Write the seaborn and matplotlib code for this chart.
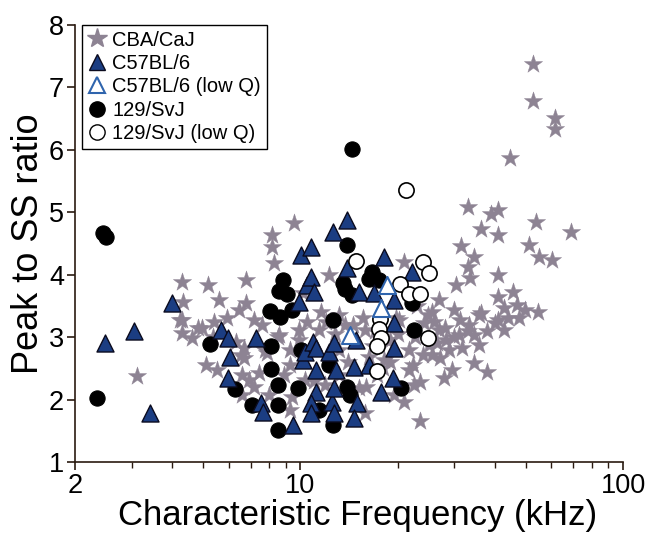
import matplotlib
matplotlib.use("Agg")
import matplotlib.pyplot as plt
from matplotlib.lines import Line2D
from matplotlib.ticker import FixedLocator, NullFormatter
import pandas as pd
import seaborn as sns

# CBA/CaJ: characteristic frequency (kHz) and peak-to-steady-state ratio
cba_cf = [52.6, 52.6, 61.5, 61.5, 44.7, 33.1, 39.0, 41.0, 53.8, 69.0,
          36.3, 41.0, 31.5, 51.2, 34.6, 55.0, 60.1, 21.0, 33.1, 41.0,
          30.4, 41.0, 45.6, 29.9, 36.3, 42.8, 47.0, 54.5, 49.6, 35.8,
          41.0, 24.2, 26.0, 31.3, 40.2, 34.6, 28.3, 25.6, 31.6, 34.6,
          37.8, 29.6, 27.9, 23.5, 27.0, 21.0, 22.4, 24.0, 21.75, 23.4,
          17.3, 15.9, 15.6, 19.8, 16.35, 33.6, 23.0, 26.9, 25.5,
          3.11, 4.28, 5.16, 6.8, 4.31, 5.6, 6.8, 6.47, 4.28, 5.9,
          4.94, 4.28, 4.6, 5.34, 6.7, 6.56, 5.5, 6.7, 7.46, 6.6,
          6.6, 8.6, 9.38, 5.4, 9.58, 8.19, 8.19, 8.3, 12.3, 6.95,
          9.25, 8.0, 8.9, 8.5, 6.3, 10.45, 12.0, 9.25, 7.6, 9.93,
          13.2, 13.2, 15.2, 4.22, 4.8, 7.2, 11.0, 14.0, 16.8,
          18.5, 20.0, 19.0, 17.0, 12.8, 11.6, 10.2, 22.6, 26.5, 30.0,
          28.0, 33.0, 38.0, 44.0, 24.8, 18.0, 16.0, 14.6, 7.9, 5.1,
          7.2, 7.75, 9.93, 11.45, 11.9, 9.25, 10.3, 13.2, 15.8, 18.9,
          20.25, 21.75, 19.5, 18.2, 25.1, 26.9, 28.9, 31.1, 33.4, 35.8,
          42.8, 47.7, 22.5, 13.7]
cba_ratio = [7.37, 6.78, 6.50, 6.33, 5.86, 5.08, 4.97, 5.03, 4.84, 4.68,
             4.73, 4.63, 4.46, 4.47, 4.28, 4.28, 4.23, 4.20, 4.12, 3.99,
             3.83, 3.64, 3.72, 3.43, 3.38, 3.46, 3.51, 3.40, 3.43, 3.35,
             3.27, 3.22, 3.24, 3.27, 3.22, 3.03, 2.95, 2.71, 2.82, 2.58,
             2.44, 2.47, 2.34, 1.66, 2.66, 1.96, 2.55, 2.71, 2.79, 2.28,
             2.39, 1.78, 3.30, 3.30, 2.68, 3.94, 3.50, 3.59, 3.40,
             2.38, 3.88, 3.83, 3.91, 3.56, 3.60, 3.54, 3.43, 3.27, 3.30,
             3.14, 3.06, 2.98, 3.00, 2.82, 2.71, 2.47, 2.66, 2.42, 2.39,
             2.07, 3.03, 2.04, 3.24, 4.82, 4.63, 4.44, 4.18, 3.99, 2.31,
             2.55, 2.07, 2.39, 3.00, 2.92, 3.24, 3.24, 2.79, 3.19, 3.11,
             3.35, 2.39, 2.18, 3.27, 3.14, 2.20, 2.30, 2.60, 2.85,
             2.95, 3.05, 2.60, 3.10, 3.05, 3.40, 3.70, 3.00, 2.90, 3.00,
             3.15, 3.10, 3.10, 3.30, 3.35, 2.50, 2.20, 3.20, 2.75, 2.55,
             3.27, 2.79, 2.95, 3.11, 2.23, 1.83, 2.31, 2.79, 3.11, 2.95,
             3.27, 2.47, 2.07, 2.63, 2.87, 3.11, 2.79, 3.03, 3.19, 2.87,
             3.11, 3.30, 2.23, 3.19]

# C57BL/6
c57_cf = [2.47, 3.04, 3.41, 3.99, 5.68, 5.95, 6.03, 5.95, 7.3, 7.57,
          7.63, 9.45, 10.15, 10.3, 10.9, 11.2, 11.2, 11.2, 10.8, 10.8,
          12.3, 12.5, 9.93, 10.45, 10.8, 11.05, 10.07, 10.8, 12.6, 13.9,
          13.9, 15.23, 16.9, 19.5, 18.2, 22.1, 12.7, 14.9, 19.5, 12.9,
          14.7, 16.35, 19.3, 17.8, 12.7, 15.0, 12.7, 14.7, 19.5]
c57_ratio = [2.90, 3.10, 1.78, 3.54, 3.11, 2.98, 2.68, 2.34, 2.98, 1.94,
             1.80, 1.59, 2.63, 2.76, 2.92, 2.82, 2.47, 2.12, 1.94, 1.78,
             2.76, 1.96, 3.56, 3.83, 3.96, 3.72, 4.31, 4.44, 4.68, 4.87,
             4.10, 3.72, 3.70, 3.59, 4.28, 4.04, 2.90, 2.95, 2.82, 2.47,
             2.52, 2.55, 2.34, 2.12, 2.18, 1.94, 1.78, 1.70, 3.22]

# C57BL/6 (low Q)
c57lq_cf = [18.6, 17.8, 14.2]
c57lq_ratio = [3.83, 3.46, 3.03]

# 129/SvJ
sv_cf = [2.44, 2.50, 2.34, 14.4, 5.23, 6.25, 7.05, 8.13, 8.13, 8.5,
         8.5, 8.5, 9.86, 8.8, 8.6, 9.1, 8.07, 8.67, 9.4, 13.9,
         16.7, 16.35, 13.5, 13.7, 14.4, 17.56, 22.1, 12.6, 22.5, 12.3,
         13.9, 14.2, 20.5, 12.6, 11.45, 10.05]
sv_ratio = [4.66, 4.60, 2.02, 6.01, 2.89, 2.17, 1.91, 2.86, 2.49, 2.23,
            1.91, 1.51, 2.18, 3.91, 3.74, 3.69, 3.42, 3.32, 3.43, 4.47,
            4.04, 3.93, 3.86, 3.77, 3.67, 3.91, 3.54, 3.27, 3.11, 2.55,
            2.20, 2.07, 2.18, 1.59, 1.83, 2.79]

# 129/SvJ (low Q)
svlq_cf = [21.3, 14.9, 24.0, 25.1, 20.4, 21.75, 23.4, 17.7, 17.56, 17.8,
           17.3, 24.9, 17.3]
svlq_ratio = [5.35, 4.22, 4.20, 4.02, 3.85, 3.69, 3.69, 3.29, 3.13, 2.98,
              2.86, 2.99, 2.46]

x_major = [2, 10, 100]
x_major_labels = ["2", "10", "100"]
y_ticks = [1, 2, 3, 4, 5, 6, 7, 8]

sns.set_theme(style="ticks")
plt.rcParams["font.family"] = ["Liberation Sans", "DejaVu Sans"]
plt.rcParams["text.color"] = "black"
plt.rcParams["axes.labelcolor"] = "black"
plt.rcParams["xtick.labelcolor"] = "black"
plt.rcParams["ytick.labelcolor"] = "black"

STAR = "#8d8393"
NAVY = "#1b3d82"
LOWQ_BLUE = "#2f64ad"
AXIS = "#2a1a10"

fig = plt.figure(figsize=(6.5, 5.35), dpi=100)
ax = fig.add_axes([0.1154, 0.1364, 0.8431, 0.8178])

def frame(cf, ratio):
    return pd.DataFrame({"cf": cf, "ratio": ratio})

sns.scatterplot(data=frame(cba_cf, cba_ratio), x="cf", y="ratio", ax=ax,
                marker="*", s=190, color=STAR, edgecolor=STAR,
                linewidth=0.3, legend=False, zorder=2)
sns.scatterplot(data=frame(sv_cf, sv_ratio), x="cf", y="ratio", ax=ax,
                marker="o", s=120, color="black", edgecolor="black",
                linewidth=0.8, legend=False, zorder=3)
sns.scatterplot(data=frame(c57_cf, c57_ratio), x="cf", y="ratio", ax=ax,
                marker="^", s=150, color=NAVY, edgecolor="#0b0b1e",
                linewidth=1.0, legend=False, zorder=4)
sns.scatterplot(data=frame(svlq_cf, svlq_ratio), x="cf", y="ratio", ax=ax,
                marker="o", s=120, color="white", edgecolor="black",
                linewidth=1.2, legend=False, zorder=5)
sns.scatterplot(data=frame(c57lq_cf, c57lq_ratio), x="cf", y="ratio", ax=ax,
                marker="^", s=150, color="white", edgecolor=LOWQ_BLUE,
                linewidth=1.5, legend=False, zorder=6)

ax.set_xscale("log")
ax.set_xlim(2, 100)
ax.set_ylim(1, 8)
ax.xaxis.set_major_locator(FixedLocator(x_major))
ax.set_xticklabels(x_major_labels)
ax.xaxis.set_minor_locator(FixedLocator([3, 4, 5, 6, 7, 8, 9,
                                         20, 30, 40, 50, 60, 70, 80, 90]))
ax.xaxis.set_minor_formatter(NullFormatter())
ax.set_yticks(y_ticks)

for side in ("top", "right"):
    ax.spines[side].set_visible(False)
for side in ("left", "bottom"):
    ax.spines[side].set_color(AXIS)
    ax.spines[side].set_linewidth(1.2)

ax.tick_params(axis="both", which="major", direction="out", length=6,
               width=1.2, labelsize=19.5, color=AXIS, pad=2)
ax.tick_params(axis="x", which="minor", direction="out", length=4,
               width=1.0, color=AXIS)

ax.set_xlabel("Characteristic Frequency (kHz)", fontsize=25, labelpad=0)
ax.xaxis.set_label_coords(0.516, -0.085)
ax.set_ylabel("Peak to SS ratio", fontsize=26, labelpad=2)

handles = [
    Line2D([], [], ls="none", marker="*", ms=15, color=STAR, mec=STAR),
    Line2D([], [], ls="none", marker="^", ms=12, color=NAVY, mec="#0b0b1e", mew=1.0),
    Line2D([], [], ls="none", marker="^", ms=12, color="white", mec=LOWQ_BLUE, mew=1.5),
    Line2D([], [], ls="none", marker="o", ms=11, color="black", mec="black"),
    Line2D([], [], ls="none", marker="o", ms=11, color="white", mec="black", mew=1.0),
]
labels = ["CBA/CaJ", "C57BL/6", "C57BL/6 (low Q)", "129/SvJ", "129/SvJ (low Q)"]
leg = ax.legend(handles, labels, loc="upper left", bbox_to_anchor=(0.013, 1.0),
                borderaxespad=0, fontsize=14.5, frameon=True, fancybox=False,
                edgecolor="black", framealpha=1, handlelength=0.9,
                handletextpad=0.3, labelspacing=0.22, borderpad=0.3)
leg.get_frame().set_linewidth(1.0)

fig.savefig("out.png", dpi=100)
